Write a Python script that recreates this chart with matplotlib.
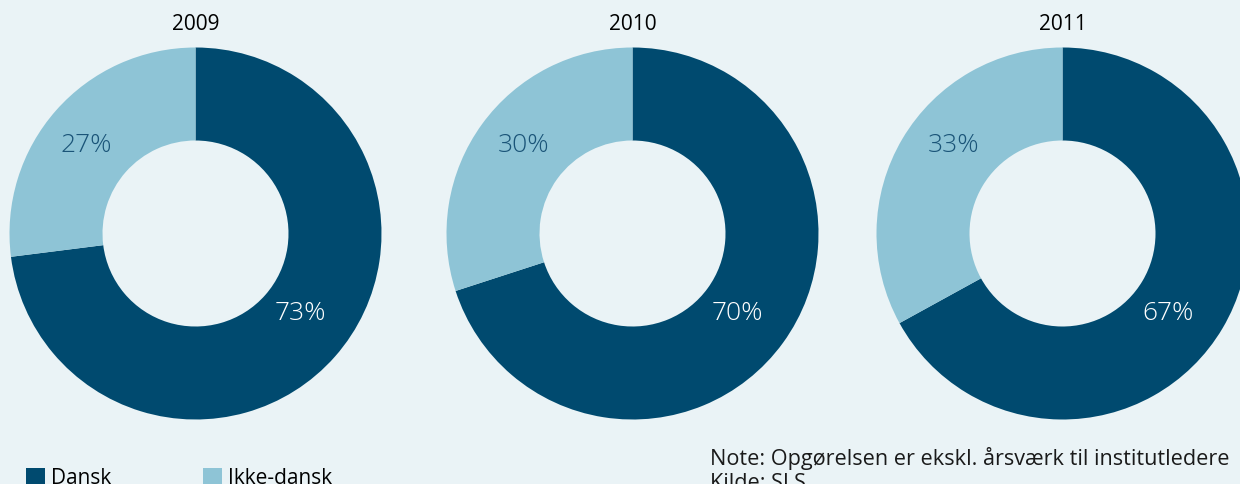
import matplotlib
matplotlib.use('Agg')
import matplotlib.pyplot as plt
from matplotlib.patches import Patch

plt.rcParams['font.family'] = ['Open Sans', 'DejaVu Sans']

years = ['2009', '2010', '2011']
dansk = [73, 70, 67]
ikke_dansk = [27, 30, 33]
series_names = ['Dansk', 'Ikke-dansk']
note_text = 'Note: Opgørelsen er ekskl. årsværk til institutledere\nKilde: SLS'

dark = '#004a6f'
light = '#8ec4d6'
bg = '#eaf3f6'

W, H = 1240, 485
fig = plt.figure(figsize=(W / 100, H / 100), dpi=100, facecolor=bg)

centers = [(195.5, 234.5), (632.5, 234.5), (1062.5, 234.5)]
R = 186

for i, year in enumerate(years):
    cx, cy = centers[i]
    ax = fig.add_axes([(cx - R) / W, (H - cy - R) / H, 2 * R / W, 2 * R / H])
    ax.set_facecolor(bg)
    wedges, texts, autotexts = ax.pie(
        [dansk[i], ikke_dansk[i]], colors=[dark, light], startangle=90,
        counterclock=False, radius=1, autopct='%d%%', pctdistance=0.75,
        wedgeprops=dict(width=0.5, linewidth=0),
        textprops=dict(fontsize=19, fontweight='light'))
    # labels sit at the same spot in every ring
    autotexts[0].set_position((0.565, -0.425))
    autotexts[1].set_position((-0.585, 0.48))
    autotexts[0].set_color('white')
    autotexts[1].set_color('#1a5478')
    ax.set_xlim(-1, 1)
    ax.set_ylim(-1, 1)
    ax.set_aspect('equal')
    ax.axis('off')
    fig.text(cx / W, (H - 30) / H, year, ha='center', va='baseline',
             fontsize=15, color='black')

handles = [Patch(facecolor=dark, edgecolor='none'),
           Patch(facecolor=light, edgecolor='none')]
fig.legend(handles, series_names, loc='upper left', ncol=2,
           bbox_to_anchor=(18 / W, (H - 460) / H), frameon=False,
           fontsize=15, handlelength=0.9, handleheight=0.9,
           handletextpad=0.3, columnspacing=4.4, borderaxespad=0)

fig.text(710 / W, (H - 489) / H, note_text, ha='left', va='baseline',
         fontsize=15.6, color='#1a1a1a', linespacing=1.2)

fig.savefig('out.png', dpi=100, facecolor=bg)
